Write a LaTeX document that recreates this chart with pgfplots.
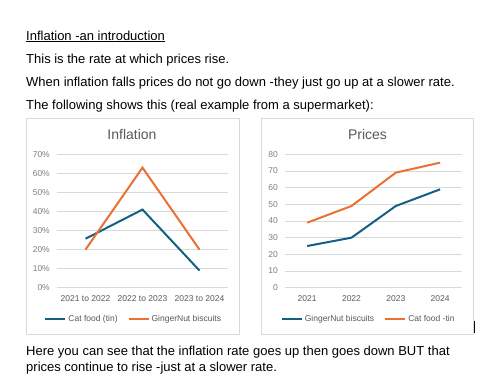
\documentclass[border=0pt]{standalone}
\usepackage{fontspec}
\setmainfont{Liberation Sans}
\usepackage{pgfplots}
\pgfplotsset{compat=1.18}
\definecolor{xblue}{HTML}{156082}
\definecolor{xorange}{HTML}{E97132}
\definecolor{xgrid}{HTML}{D9D9D9}
\definecolor{xtext}{HTML}{595959}
\definecolor{xytext}{HTML}{7F7F7F}
\pgfplotsset{
  excel/.style={
    scale only axis,
    axis line style={draw=none},
    major tick length=0pt,
    ymajorgrids,
    grid style={xgrid, line width=0.6pt},
    ymin=0,
    xtick=data,
    yticklabel style={font=\fontsize{8.5}{10}\selectfont, text=xytext, inner sep=0pt, anchor=east, xshift=-7pt},
    xticklabel style={font=\fontsize{8.5}{10}\selectfont, text=xtext, inner sep=0pt, anchor=north, yshift=-8pt},
    legend style={draw=none, fill=none, font=\fontsize{8.5}{10}\selectfont, text=xtext, legend columns=2, inner sep=0pt,
      /tikz/every even column/.append style={column sep=8pt},
      legend cell align=left},
    legend image code/.code={\draw[#1, line width=2pt] (0pt,0pt) -- (20pt,0pt);},
  }
}
\begin{document}
\begin{tikzpicture}
\useasboundingbox (0,0) rectangle (487pt,-376pt);
\fill[white] (0,0) rectangle (487pt,-376pt);
% body text
\begin{scope}[every node/.style={anchor=base west, inner sep=0pt, font=\fontsize{13}{15}\selectfont}]
\node at (26pt,-40pt) {\underline{Inflation -an introduction}};
\node at (26pt,-63.5pt) {This is the rate at which prices rise.};
\node at (26pt,-86.5pt) {When inflation falls prices do not go down -they just go up at a slower rate.};
\node at (26pt,-109.5pt) {The following shows this (real example from a supermarket):};
\node at (26pt,-355.5pt) {Here you can see that the inflation rate goes up then goes down BUT that};
\node at (26pt,-371.5pt) {prices continue to rise -just at a slower rate.};
\end{scope}
% chart boxes
\draw[xgrid, line width=0.75pt] (26pt,-118pt) rectangle (239pt,-334pt);
\draw[xgrid, line width=0.75pt] (261pt,-118pt) rectangle (473pt,-334pt);
\draw[black, line width=1pt] (474pt,-321pt) -- (474pt,-333pt);
% titles
\node[text=xtext, font=\fontsize{14}{16}\selectfont] at (132pt,-134pt) {Inflation};
\node[text=xtext, font=\fontsize{14}{16}\selectfont] at (367.5pt,-134pt) {Prices};
% Inflation chart
\begin{axis}[excel,
  at={(57pt,-287.7pt)}, anchor=south west,
  width=171pt, height=133.4pt,
  xmin=-0.5, xmax=2.5, ymax=70,
  ytick={0,10,20,30,40,50,60,70},
  yticklabels={0\%,10\%,20\%,30\%,40\%,50\%,60\%,70\%},
  xticklabels={2021 to 2022,2022 to 2023,2023 to 2024},
  legend style={at={(0.449,-0.235)}, anchor=center},
]
\addplot[xblue, line width=2pt] coordinates {(0,25.7) (1,41) (2,9)};
\addlegendentry{Cat food (tin)}
\addplot[xorange, line width=2pt] coordinates {(0,20) (1,63) (2,20)};
\addlegendentry{GingerNut biscuits}
\end{axis}
% Prices chart
\begin{axis}[excel,
  at={(285pt,-287.7pt)}, anchor=south west,
  width=177.3pt, height=133.4pt,
  xmin=-0.5, xmax=3.5, ymax=80,
  ytick={0,10,20,30,40,50,60,70,80},
  yticklabels={0,10,20,30,40,50,60,70,80},
  xticklabels={2021,2022,2023,2024},
  legend style={at={(0.472,-0.235)}, anchor=center},
]
\addplot[xblue, line width=2pt] coordinates {(0,25) (1,30) (2,49) (3,59)};
\addlegendentry{GingerNut biscuits}
\addplot[xorange, line width=2pt] coordinates {(0,39) (1,49) (2,69) (3,75)};
\addlegendentry{Cat food -tin}
\end{axis}
\end{tikzpicture}
\end{document}
